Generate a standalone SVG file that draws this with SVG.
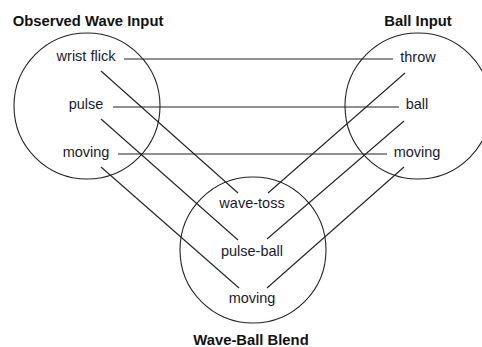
<svg xmlns="http://www.w3.org/2000/svg" width="482" height="347" viewBox="0 0 482 347">
<style>
.c{fill:none;stroke:#222;stroke-width:1.1}
.l{stroke:#222;stroke-width:1.1;fill:none}
.t{font-family:"Liberation Sans",Arial,sans-serif;font-size:14.5px;fill:#1a1a2e;text-anchor:middle}
.h{font-family:"Liberation Sans",Arial,sans-serif;font-size:14.8px;font-weight:bold;fill:#111;text-anchor:middle}
</style>
<rect width="482" height="347" fill="#fff"/>
<g id="connectors">
<line class="l" x1="124" y1="59" x2="393" y2="59"/>
<line class="l" x1="113" y1="107" x2="399" y2="107"/>
<line class="l" x1="118" y1="154" x2="387" y2="154"/>
<line class="l" x1="101" y1="71" x2="238" y2="193"/>
<line class="l" x1="101" y1="119" x2="238" y2="240"/>
<line class="l" x1="101" y1="167" x2="239" y2="288"/>
<line class="l" x1="405" y1="73" x2="268" y2="193"/>
<line class="l" x1="404" y1="121" x2="267" y2="239"/>
<line class="l" x1="404" y1="167" x2="267" y2="288"/>
</g>
<g id="observed-wave-input">
<circle class="c" cx="87" cy="106" r="73"/>
<text class="h" x="88" y="26">Observed Wave Input</text>
</g>
<g id="ball-input">
<circle class="c" cx="418" cy="106" r="73"/>
<text class="h" x="418" y="26">Ball Input</text>
</g>
<g id="wave-ball-blend">
<circle class="c" cx="253" cy="250" r="73"/>
<text class="h" x="251" y="345">Wave-Ball Blend</text>
</g>
<g id="wrist-flick"><text class="t" x="86" y="61">wrist flick</text></g>
<g id="pulse"><text class="t" x="86" y="109">pulse</text></g>
<g id="moving-wave"><text class="t" x="86" y="157">moving</text></g>
<g id="throw"><text class="t" x="418" y="62">throw</text></g>
<g id="ball"><text class="t" x="417" y="109">ball</text></g>
<g id="moving-ball"><text class="t" x="417" y="157">moving</text></g>
<g id="wave-toss"><text class="t" x="252" y="208">wave-toss</text></g>
<g id="pulse-ball"><text class="t" x="252" y="256">pulse-ball</text></g>
<g id="moving-blend"><text class="t" x="252" y="303">moving</text></g>
</svg>
